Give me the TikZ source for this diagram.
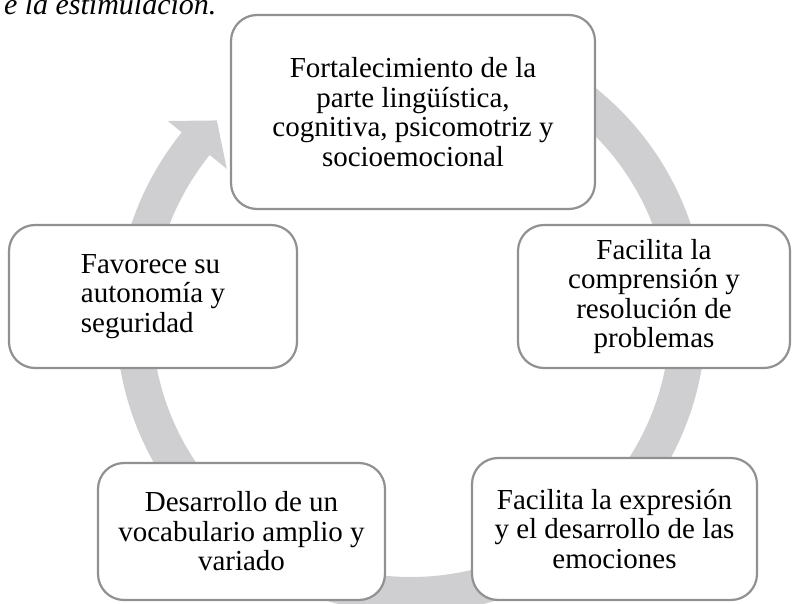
\documentclass[tikz,border=0pt]{standalone}
\usepackage{fontspec}
\setmainfont{Liberation Serif}
\definecolor{ringgray}{RGB}{207,207,209}
\definecolor{boxgray}{RGB}{145,145,145}

\begin{document}
\begin{tikzpicture}[x=1pt,y=1pt,
    box/.style={draw=boxgray, line width=2.2pt, fill=white, rounded corners=26pt, align=center, inner sep=0pt},
    every node/.append style={font=\fontsize{29}{29.5}\selectfont}]
    \useasboundingbox (0,0) rectangle (792,603);
    \node [anchor=base east, font=\fontsize{30}{30}\selectfont\itshape] (caption) at (220,588) {e la estimulación.};
    \coordinate (c) at (411,285);
    \draw [ringgray, line width=36pt] ([shift={(90:277)}]c) arc [start angle=90, end angle=-219.5, radius=277];
    \fill [ringgray] ([shift={(141:237)}]c) -- ([shift={(134.5:277)}]c) -- ([shift={(141:313)}]c) -- cycle;
    \node [box, minimum width=364pt, minimum height=194pt] (fortalecimiento) at (413,491) {Fortalecimiento de la\\parte lingüística,\\cognitiva, psicomotriz y\\socioemocional};
    \node [box, minimum width=272pt, minimum height=143pt] (comprension) at (654,306.5) {Facilita la\\comprensión y\\resolución de\\problemas};
    \node [box, minimum width=285pt, minimum height=142pt] (expresion) at (614.5,74) {Facilita la expresión\\y el desarrollo de las\\emociones};
    \node [box, minimum width=287pt, minimum height=137pt] (vocabulario) at (241.5,71.5) {Desarrollo de un\\vocabulario amplio y\\variado};
    \node [box, align=left, minimum width=288pt, minimum height=143pt] (autonomia) at (153,306.5) {Favorece su\\autonomía y\\seguridad};
\end{tikzpicture}
\end{document}
